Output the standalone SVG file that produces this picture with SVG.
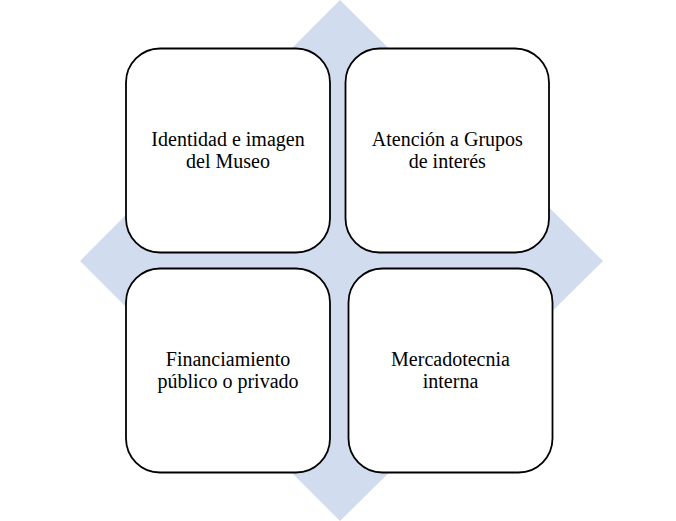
<svg xmlns="http://www.w3.org/2000/svg" width="676" height="521" viewBox="0 0 676 521">
<style>
.box{fill:#ffffff;stroke:#000000;stroke-width:1.8}
.lbl{font-family:"Liberation Serif","Times New Roman",serif;font-size:20px;fill:#000000;text-anchor:middle}
</style>
<rect width="676" height="521" fill="#ffffff"/>
<g id="background">
<polygon points="340,0 603,261 340,521 80,261" fill="#D1DCEF"/>
</g>
<g id="connectors"></g>
<g id="node-identidad">
<rect class="box" x="126" y="48.5" width="204" height="204" rx="34" ry="34"/>
<text class="lbl" x="228" y="145.5">Identidad e imagen</text>
<text class="lbl" x="228" y="167.5">del Museo</text>
</g>
<g id="node-atencion">
<rect class="box" x="345.5" y="48.5" width="203.5" height="204" rx="34" ry="34"/>
<text class="lbl" x="447.3" y="145.5">Atención a Grupos</text>
<text class="lbl" x="447.3" y="167.5">de interés</text>
</g>
<g id="node-financiamiento">
<rect class="box" x="126" y="268.5" width="204" height="204" rx="34" ry="34"/>
<text class="lbl" x="228" y="365.5">Financiamiento</text>
<text class="lbl" x="228" y="387.5">público o privado</text>
</g>
<g id="node-mercadotecnia">
<rect class="box" x="348.5" y="268.5" width="204" height="204" rx="34" ry="34"/>
<text class="lbl" x="450.5" y="365.5">Mercadotecnia</text>
<text class="lbl" x="450.5" y="387.5">interna</text>
</g>
</svg>
